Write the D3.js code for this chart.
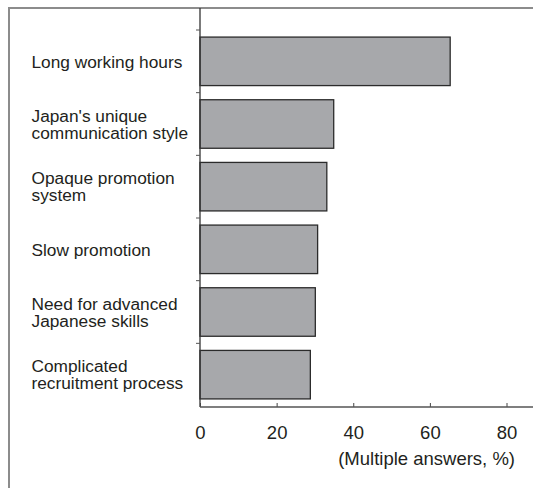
<!DOCTYPE html>
<html><head><meta charset="utf-8">
<script src="https://cdn.jsdelivr.net/npm/d3@7"></script>
<style>
html,body{margin:0;padding:0;background:#fff;}
svg{display:block;}
text{font-family:"Liberation Sans",Arial,Helvetica,sans-serif;fill:#231f20;}
</style></head>
<body>
<svg id="chart" width="533" height="488"></svg>
<script>
const categories = [
  ["Long working hours"],
  ["Japan's unique", "communication style"],
  ["Opaque promotion", "system"],
  ["Slow promotion"],
  ["Need for advanced", "Japanese skills"],
  ["Complicated", "recruitment process"]
];
const values = [65.3, 34.9, 33.1, 30.7, 30.1, 28.8];
const xTicks = [0, 20, 40, 60, 80];
const xTitle = "(Multiple answers, %)";

const W = 533, H = 488;
const svg = d3.select("#chart");
const ids = categories.map((c, i) => i);

const x = d3.scaleLinear().domain([0, 80]).range([200, 506.5]);
const y = d3.scaleBand().domain(ids).range([30, 406]).paddingInner(0.226).paddingOuter(0.113);

// frame (top and left)
svg.append("line").attr("x1", 9).attr("x2", W).attr("y1", 8).attr("y2", 8)
  .attr("stroke", "#8c8c8c").attr("stroke-width", 2);
svg.append("line").attr("x1", 9).attr("x2", 9).attr("y1", 7).attr("y2", H)
  .attr("stroke", "#8c8c8c").attr("stroke-width", 2);

// bars
svg.append("g").selectAll("rect").data(values).join("rect")
  .attr("x", x(0))
  .attr("y", (d, i) => y(i))
  .attr("width", d => x(d) - x(0))
  .attr("height", y.bandwidth())
  .attr("fill", "#a7a8ab")
  .attr("stroke", "#2b2b2b")
  .attr("stroke-width", 1.3);

// y axis line and ticks at band boundaries
const axisY = 407;
svg.append("line").attr("x1", x(0)).attr("x2", x(0)).attr("y1", 8).attr("y2", axisY)
  .attr("stroke", "#333").attr("stroke-width", 1.3);
const step = y.step();
const bounds = d3.range(categories.length).map(i => y(i) - y.paddingOuter() * step + 0);
svg.append("g").selectAll("line").data(ids.slice(0, 6)).join("line")
  .attr("x1", x(0) - 4).attr("x2", x(0))
  .attr("y1", i => y.range()[0] + i * step)
  .attr("y2", i => y.range()[0] + i * step)
  .attr("stroke", "#555").attr("stroke-width", 1);

// x axis
const xAxis = d3.axisBottom(x).tickValues(xTicks).tickSize(-4).tickPadding(16).tickSizeOuter(0);
const gx = svg.append("g").attr("transform", `translate(0,${axisY})`).call(xAxis);
gx.select(".domain").remove();
gx.selectAll(".tick line").attr("stroke", "#444").attr("stroke-width", 1);
gx.selectAll(".tick text").attr("font-size", 18.5).attr("fill", "#231f20")
  .attr("font-family", "Liberation Sans, Arial, sans-serif").attr("dy", "0.85em");
svg.append("line").attr("x1", x(0)).attr("x2", W).attr("y1", axisY).attr("y2", axisY)
  .attr("stroke", "#555").attr("stroke-width", 1.3);

svg.append("text").attr("x", 515).attr("y", 465).attr("text-anchor", "end")
  .attr("font-size", 18.5).text(xTitle);

// category labels
const lab = svg.append("g").selectAll("text").data(categories).join("text")
  .attr("font-size", 17.3)
  .attr("x", 31.5)
  .attr("y", (d, i) => y(i) + y.bandwidth() / 2 + (d.length === 1 ? 6.5 : -2.5));
lab.selectAll("tspan").data(d => d).join("tspan")
  .attr("x", 31.5)
  .attr("dy", (d, j) => j === 0 ? 0 : 17.2)
  .text(d => d);
</script>
</body></html>
